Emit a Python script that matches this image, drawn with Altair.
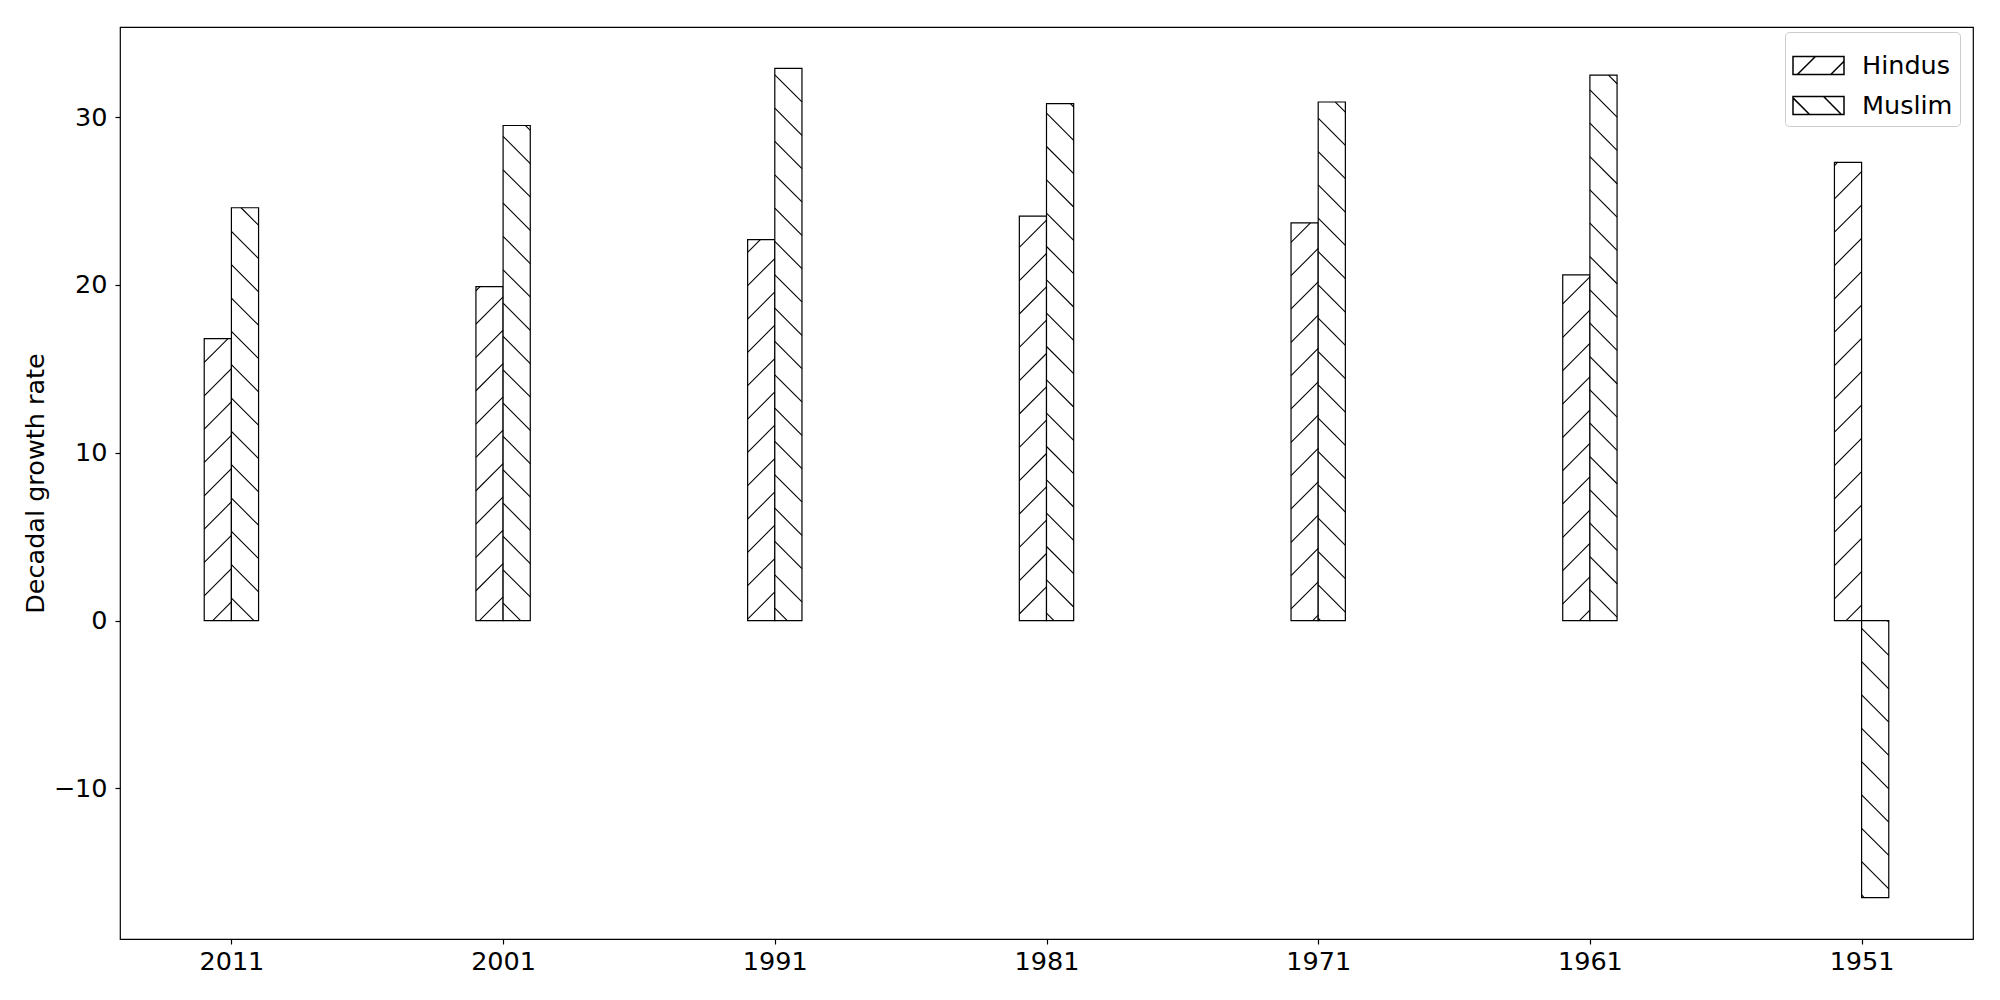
import altair as alt
import pandas as pd
import numpy as np

# ---- data ----
years = ["2011", "2001", "1991", "1981", "1971", "1961", "1951"]
hindus = [16.8, 19.9, 22.7, 24.1, 23.7, 20.6, 27.3]
muslim = [24.6, 29.5, 32.9, 30.8, 30.9, 32.5, -16.5]
groups = ["Hindus", "Muslim"]
y_ticks = [-10, 0, 10, 20, 30]

# ---- layout ----
BAR_W = 0.1
W, H = 1853, 912
PAD_L, PAD_T = 112, 19
OX, OY = 8 + PAD_L, 8 + PAD_T
PAGE_H = 1000
HATCH_D = 200 / 6.0
FONT = "DejaVu Sans"
FS = 25.5
SYM = 2601

n = len(years)
idx = list(range(n))
allv = hindus + muslim
xmin, xmax = -BAR_W, n - 1 + BAR_W
xm = 0.05 * (xmax - xmin)
xdom = [xmin - xm, xmax + xm]
ylo, yhi = min(0, min(allv)), max(0, max(allv))
ymg = 0.05 * (yhi - ylo)
ydom = [ylo - ymg, yhi + ymg]
xspan = xdom[1] - xdom[0]
yspan = ydom[1] - ydom[0]

rows = []
for i in idx:
    rows.append(dict(group="Hindus", year=years[i], x0=i - BAR_W, x1=i, xc=i - BAR_W / 2, v=hindus[i]))
    rows.append(dict(group="Muslim", year=years[i], x0=i, x1=i + BAR_W, xc=i + BAR_W / 2, v=muslim[i]))
bars = pd.DataFrame(rows)
bars["zero"] = 0.0
bars["mid"] = bars["v"] / 2


def px(x):
    return OX + (x - xdom[0]) / xspan * W


def pyup(y):
    return PAGE_H - (OY + (ydom[1] - y) / yspan * H)


def to_x(X):
    return xdom[0] + (X - OX) / W * xspan


def to_y(Yup):
    return ydom[1] - ((PAGE_H - Yup) - OY) / H * yspan


# hatch segments derived from each bar's extent ('/' for Hindus, '\' for Muslim)
segs = []
for r in rows:
    X0, X1 = px(r["x0"]), px(r["x1"])
    B, T = sorted([pyup(0), pyup(r["v"])])
    if r["group"] == "Hindus":  # '/'  : Yup - X = c
        kmin = int(np.floor((B - X1) / HATCH_D)) - 1
        kmax = int(np.ceil((T - X0) / HATCH_D)) + 1
        for k in range(kmin, kmax + 1):
            c = k * HATCH_D
            lo, hi = max(X0, B - c), min(X1, T - c)
            if hi - lo > 0.5:
                segs.append(dict(xa=to_x(lo), ya=to_y(lo + c), xb=to_x(hi), yb=to_y(hi + c)))
    else:  # '\' : Yup + X = c
        kmin = int(np.floor((B + X0) / HATCH_D)) - 1
        kmax = int(np.ceil((T + X1) / HATCH_D)) + 1
        for k in range(kmin, kmax + 1):
            c = k * HATCH_D
            lo, hi = max(X0, c - T), min(X1, c - B)
            if hi - lo > 0.5:
                segs.append(dict(xa=to_x(lo), ya=to_y(c - lo), xb=to_x(hi), yb=to_y(c - hi)))
hatch = pd.DataFrame(segs)

# legend swatch shapes (unit square -1..1, rectangle with hatch)
RH = 0.353
rect = f"M-1,-{RH}L1,-{RH}L1,{RH}L-1,{RH}Z"
path_h = rect + f"M-0.83,{RH}L-0.12,-{RH}M0.48,{RH}L1,-0.167"
path_m = rect + f"M-1,-0.30L-0.35,{RH}M0.2,-{RH}L0.9,{RH}"

xscale = alt.Scale(domain=xdom, nice=False, zero=False)
yscale = alt.Scale(domain=ydom, nice=False, zero=False)

label_expr = "[" + ",".join(f"'{y}'" for y in years) + "][datum.value]"

xaxis = alt.Axis(values=idx, labelExpr=label_expr, title=None, grid=False, domain=False,
                 tickColor="black", tickSize=5, tickWidth=1.2, labelFontSize=FS, labelFont=FONT,
                 labelColor="black", labelPadding=5, labelFlush=False)
yaxis = alt.Axis(values=y_ticks, format="d", title="Decadal growth rate", grid=False, domain=False,
                 tickColor="black", tickSize=5, tickWidth=1.2, labelFontSize=FS, labelFont=FONT,
                 labelColor="black", labelPadding=8, titleFont=FONT, titleFontSize=FS,
                 titleFontWeight="normal", titleColor="black", titleAngle=270,
                 titleX=-77, titleY=H / 2, titleBaseline="alphabetic", titleAlign="center")

base = alt.Chart(bars)

# legend-only layer: no rows are drawn, the legend comes from the shape scale's domain
legend_pts = base.transform_filter("false").mark_point(
    fill="white", stroke="black", strokeWidth=1.2, size=SYM, filled=False, opacity=1).encode(
    x=alt.X("xc:Q", scale=xscale, axis=xaxis),
    y=alt.Y("mid:Q", scale=yscale, axis=yaxis),
    shape=alt.Shape("group:N", scale=alt.Scale(domain=groups, range=[path_h, path_m]),
                    legend=alt.Legend(title=None, orient="none", legendX=1665, legendY=5,
                                      symbolSize=SYM,
                                      labelFont=FONT, labelFontSize=FS, labelColor="black",
                                      labelOffset=17, padding=7, rowPadding=-6,
                                      strokeColor="#cccccc", fillColor="white",
                                      cornerRadius=4)),
)

bar_layer = base.mark_rect(fill="white", stroke="black", strokeWidth=1.2).encode(
    x=alt.X("x0:Q", scale=xscale),
    x2="x1:Q",
    y=alt.Y("zero:Q", scale=yscale),
    y2="v:Q",
)

hatch_layer = alt.Chart(hatch).mark_rule(color="black", strokeWidth=1.1).encode(
    x=alt.X("xa:Q", scale=xscale),
    x2="xb:Q",
    y=alt.Y("ya:Q", scale=yscale),
    y2="yb:Q",
)

chart = alt.layer(legend_pts, bar_layer, hatch_layer).properties(
    width=W, height=H,
    autosize=alt.AutoSizeParams(type="none"),
    padding={"left": PAD_L, "top": PAD_T, "right": 15, "bottom": 45},
    background="white",
).configure_view(stroke="black", strokeWidth=1.2).configure_axis(labelFont=FONT)

chart.save("out.html", embed_options={"renderer": "svg", "actions": False})
